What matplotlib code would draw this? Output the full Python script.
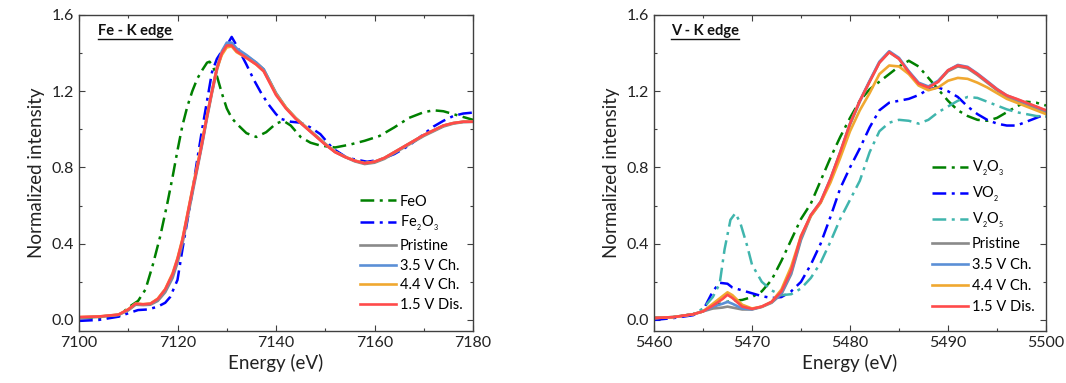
import matplotlib
matplotlib.use("Agg")
import matplotlib.pyplot as plt
from matplotlib.ticker import MultipleLocator
from matplotlib.lines import Line2D

plt.rcParams['font.family'] = ['Lato', 'DejaVu Sans']
plt.rcParams['mathtext.default'] = 'regular'

# ---------------- Fe K-edge data ----------------
fe_feo_e = [7100, 7104, 7108, 7110, 7112, 7113.5, 7115, 7116.5, 7118, 7119, 7120, 7121, 7122, 7123,
            7124, 7125, 7126, 7126.5, 7127, 7128, 7129, 7130, 7131, 7132, 7134, 7136, 7138, 7140,
            7141.5, 7143, 7145, 7147, 7149, 7152, 7155, 7158, 7161, 7164, 7167, 7170, 7172, 7174,
            7176, 7178, 7180]
fe_feo = [0.01, 0.012, 0.018, 0.065, 0.10, 0.16, 0.29, 0.44, 0.62, 0.75, 0.89, 1.02, 1.12, 1.20,
          1.265, 1.31, 1.35, 1.355, 1.34, 1.28, 1.19, 1.11, 1.06, 1.03, 0.98, 0.96, 0.985, 1.03,
          1.045, 1.02, 0.96, 0.93, 0.915, 0.905, 0.92, 0.94, 0.965, 1.01, 1.06, 1.09, 1.10, 1.095,
          1.08, 1.065, 1.05]

fe_fe2o3_e = [7100, 7104, 7108, 7110, 7112, 7114, 7116, 7117.5, 7118.5, 7120, 7121, 7122, 7123,
              7124, 7125, 7126, 7127, 7128, 7129, 7130, 7131, 7132, 7133, 7134, 7135.5, 7137,
              7138.5, 7140, 7141, 7143, 7145, 7147, 7149, 7151.5, 7154.5, 7158.5, 7161, 7164,
              7167, 7170, 7172, 7174, 7176, 7178, 7180]
fe_fe2o3 = [-0.005, 0.0, 0.017, 0.035, 0.052, 0.055, 0.07, 0.09, 0.12, 0.21, 0.37, 0.52, 0.67,
            0.84, 1.00, 1.15, 1.30, 1.37, 1.41, 1.44, 1.485, 1.44, 1.39, 1.34, 1.26, 1.19,
            1.13, 1.08, 1.055, 1.04, 1.035, 1.01, 0.975, 0.90, 0.85, 0.83, 0.84, 0.87,
            0.915, 0.975, 1.015, 1.045, 1.07, 1.083, 1.088]

fe_e = [7100, 7104, 7108, 7110, 7111.5, 7113, 7114.5, 7116, 7117.5, 7119, 7120, 7121, 7122, 7123,
        7124, 7125, 7126, 7127, 7128, 7129, 7130, 7131, 7132, 7134, 7136, 7137.5, 7139, 7140,
        7142, 7144, 7146, 7148, 7150, 7152, 7154, 7156, 7158, 7160, 7162, 7164, 7166, 7168,
        7170, 7172, 7174, 7176, 7178, 7180]
fe_pristine = [0.012, 0.016, 0.026, 0.05, 0.08, 0.078, 0.08, 0.10, 0.145, 0.22, 0.30, 0.40, 0.53,
               0.66, 0.79, 0.92, 1.06, 1.19, 1.31, 1.40, 1.445, 1.45, 1.42, 1.385, 1.35, 1.315,
               1.24, 1.19, 1.115, 1.06, 1.015, 0.97, 0.925, 0.882, 0.855, 0.832, 0.818, 0.825,
               0.845, 0.875, 0.905, 0.935, 0.965, 0.99, 1.015, 1.03, 1.038, 1.04]
fe_35v = [0.013, 0.017, 0.027, 0.054, 0.084, 0.081, 0.084, 0.108, 0.155, 0.235, 0.315, 0.415,
          0.545, 0.675, 0.80, 0.93, 1.07, 1.20, 1.325, 1.41, 1.455, 1.455, 1.425, 1.39, 1.35,
          1.315, 1.24, 1.19, 1.115, 1.058, 1.012, 0.967, 0.922, 0.882, 0.856, 0.836, 0.823,
          0.83, 0.85, 0.88, 0.91, 0.94, 0.97, 0.995, 1.02, 1.033, 1.04, 1.04]
fe_44v = [0.015, 0.018, 0.028, 0.056, 0.086, 0.083, 0.086, 0.112, 0.162, 0.245, 0.325, 0.425,
          0.555, 0.685, 0.81, 0.94, 1.075, 1.20, 1.32, 1.39, 1.43, 1.435, 1.405, 1.375, 1.34,
          1.305, 1.235, 1.185, 1.115, 1.058, 1.012, 0.967, 0.922, 0.882, 0.856, 0.836, 0.823,
          0.83, 0.85, 0.88, 0.91, 0.94, 0.97, 0.995, 1.02, 1.033, 1.04, 1.04]
fe_15v = [0.015, 0.018, 0.028, 0.055, 0.085, 0.082, 0.085, 0.11, 0.16, 0.24, 0.32, 0.42, 0.55,
          0.68, 0.80, 0.93, 1.07, 1.20, 1.32, 1.40, 1.44, 1.44, 1.41, 1.375, 1.34, 1.305,
          1.23, 1.18, 1.11, 1.055, 1.01, 0.965, 0.92, 0.88, 0.855, 0.835, 0.822, 0.83, 0.85,
          0.88, 0.91, 0.94, 0.97, 0.995, 1.02, 1.033, 1.04, 1.04]

# ---------------- V K-edge data ----------------
v_v2o3_e = [5460, 5462, 5464, 5465, 5466, 5467, 5468, 5469, 5470, 5471, 5472, 5473, 5474, 5475,
            5476, 5477, 5478, 5479, 5480, 5481, 5482, 5483, 5484, 5485, 5486, 5487, 5488, 5489,
            5490, 5491, 5492, 5493, 5494, 5495, 5496, 5497, 5498, 5499, 5500]
v_v2o3 = [0.01, 0.015, 0.03, 0.045, 0.07, 0.09, 0.10, 0.105, 0.12, 0.15, 0.21, 0.31, 0.42, 0.53,
          0.61, 0.73, 0.85, 0.96, 1.06, 1.15, 1.21, 1.25, 1.29, 1.33, 1.36, 1.33, 1.27, 1.21,
          1.15, 1.10, 1.07, 1.05, 1.045, 1.06, 1.09, 1.12, 1.145, 1.14, 1.125]

v_vo2_e = [5460, 5462, 5464, 5465, 5466, 5466.7, 5467.5, 5468, 5469, 5470, 5471, 5472, 5473, 5474,
           5475, 5476, 5477, 5478, 5479, 5480, 5481, 5482, 5483, 5484, 5485, 5486, 5487, 5488,
           5489, 5490, 5491, 5492, 5493, 5494, 5495, 5496, 5497, 5498, 5499, 5500]
v_vo2 = [0.0, 0.01, 0.025, 0.05, 0.15, 0.195, 0.19, 0.17, 0.155, 0.14, 0.125, 0.115, 0.12, 0.15,
         0.20, 0.29, 0.40, 0.54, 0.69, 0.80, 0.90, 1.01, 1.10, 1.14, 1.15, 1.16, 1.18, 1.21,
         1.22, 1.20, 1.17, 1.12, 1.08, 1.05, 1.03, 1.02, 1.02, 1.04, 1.06, 1.08]

v_v2o5_e = [5460, 5462, 5464, 5465, 5466, 5466.7, 5467.2, 5467.8, 5468.3, 5468.8, 5469.5, 5470,
            5471, 5472, 5473, 5474, 5475, 5476, 5477, 5478, 5479, 5480, 5481, 5482, 5483, 5484,
            5485, 5486, 5487, 5488, 5489, 5490, 5491, 5492, 5493, 5494, 5495, 5496, 5497, 5498,
            5499, 5500]
v_v2o5 = [0.01, 0.015, 0.03, 0.06, 0.12, 0.19, 0.37, 0.525, 0.56, 0.51, 0.39, 0.29, 0.20, 0.155,
          0.13, 0.135, 0.165, 0.22, 0.30, 0.41, 0.53, 0.63, 0.73, 0.88, 0.99, 1.035, 1.05, 1.045,
          1.03, 1.05, 1.09, 1.12, 1.15, 1.17, 1.165, 1.145, 1.125, 1.105, 1.09, 1.08, 1.07, 1.067]

v_e = [5460, 5462, 5464, 5465, 5466, 5467, 5467.5, 5468, 5469, 5470, 5471, 5472, 5473, 5474, 5475,
       5476, 5477, 5478, 5479, 5480, 5481, 5482, 5483, 5484, 5485, 5486, 5487, 5488, 5489, 5490,
       5491, 5492, 5493, 5494, 5495, 5496, 5497, 5498, 5499, 5500]
v_pristine = [0.01, 0.015, 0.03, 0.045, 0.06, 0.065, 0.07, 0.065, 0.055, 0.055, 0.068, 0.09, 0.135,
              0.24, 0.42, 0.545, 0.615, 0.735, 0.875, 1.025, 1.145, 1.25, 1.35, 1.405, 1.37, 1.30,
              1.24, 1.22, 1.25, 1.305, 1.33, 1.32, 1.285, 1.245, 1.205, 1.17, 1.148, 1.13, 1.11,
              1.09]
v_35v = [0.01, 0.015, 0.03, 0.045, 0.07, 0.085, 0.095, 0.085, 0.06, 0.056, 0.07, 0.093, 0.14,
         0.25, 0.43, 0.55, 0.62, 0.74, 0.88, 1.03, 1.15, 1.255, 1.355, 1.41, 1.375, 1.305, 1.245,
         1.225, 1.255, 1.31, 1.338, 1.328, 1.293, 1.253, 1.212, 1.178, 1.158, 1.138, 1.118, 1.098]
v_44v = [0.01, 0.015, 0.03, 0.045, 0.085, 0.125, 0.145, 0.13, 0.08, 0.06, 0.07, 0.095, 0.16,
         0.28, 0.44, 0.545, 0.615, 0.72, 0.85, 0.99, 1.10, 1.19, 1.29, 1.335, 1.33, 1.29, 1.23,
         1.205, 1.22, 1.255, 1.27, 1.265, 1.245, 1.22, 1.19, 1.16, 1.14, 1.12, 1.10, 1.08]
v_15v = [0.01, 0.015, 0.03, 0.045, 0.075, 0.11, 0.132, 0.115, 0.07, 0.058, 0.07, 0.095, 0.15,
         0.26, 0.44, 0.55, 0.62, 0.74, 0.88, 1.03, 1.15, 1.25, 1.35, 1.405, 1.37, 1.30, 1.24,
         1.22, 1.25, 1.31, 1.335, 1.325, 1.29, 1.25, 1.21, 1.178, 1.16, 1.14, 1.12, 1.10]

fe_ref_labels = ['FeO', 'Fe$_{{}_2}$O$_{{}_3}$']
v_ref_labels = ['V$_{{}_2}$O$_{{}_3}$', 'VO$_{{}_2}$', 'V$_{{}_2}$O$_{{}_5}$']
sample_labels = ['Pristine', '3.5 V Ch.', '4.4 V Ch.', '1.5 V Dis.']
sample_colors = ['#8a8a8a', '#5b8fd6', '#f0a830', '#ff4a4a']
DASHDOT = (0, (5.5, 2.2, 1.2, 2.2))

fig = plt.figure(figsize=(10.66, 3.83), dpi=100)
W, H = 1066, 383
axL = fig.add_axes([79 / W, (H - 331) / H, 394 / W, 316 / H])
axR = fig.add_axes([654 / W, (H - 331) / H, 392 / W, 316 / H])

# Left panel
axL.plot(fe_feo_e, fe_feo, color='#008000', lw=1.8, ls=DASHDOT, label=fe_ref_labels[0])
axL.plot(fe_fe2o3_e, fe_fe2o3, color='#0000ff', lw=1.8, ls=DASHDOT, label=fe_ref_labels[1])
for ys, lab, col in zip([fe_pristine, fe_35v, fe_44v, fe_15v], sample_labels, sample_colors):
    axL.plot(fe_e, ys, color=col, lw=1.9, label=lab)

# Right panel
axR.plot(v_v2o3_e, v_v2o3, color='#008000', lw=1.8, ls=DASHDOT, label=v_ref_labels[0])
axR.plot(v_vo2_e, v_vo2, color='#0000ff', lw=1.8, ls=DASHDOT, label=v_ref_labels[1])
axR.plot(v_v2o5_e, v_v2o5, color='#40b5ad', lw=1.8, ls=DASHDOT, label=v_ref_labels[2])
for ys, lab, col in zip([v_pristine, v_35v, v_44v, v_15v], sample_labels, sample_colors):
    axR.plot(v_e, ys, color=col, lw=1.9, label=lab)

for ax, xlim, xmaj, xmin, anchor, lsp in [
        (axL, (7100, 7180), 20, 10, (0.712, 0.060), 0.39),
        (axR, (5460, 5500), 10, 5, (0.708, 0.055), 0.47)]:
    ax.set_xlim(*xlim)
    ax.set_ylim(-0.058, 1.6)
    ax.xaxis.set_major_locator(MultipleLocator(xmaj))
    ax.xaxis.set_minor_locator(MultipleLocator(xmin))
    ax.yaxis.set_major_locator(MultipleLocator(0.4))
    ax.yaxis.set_minor_locator(MultipleLocator(0.2))
    ax.yaxis.set_major_formatter(matplotlib.ticker.FormatStrFormatter('%.1f'))
    ax.tick_params(which='both', direction='in', top=True, right=True, colors='#404040',
                   labelcolor='#222222', labelsize=11.5)
    ax.tick_params(which='major', length=4.5, width=0.8)
    ax.tick_params(which='minor', length=2.5, width=0.8)
    for s in ax.spines.values():
        s.set_color('#404040')
        s.set_linewidth(1.0)
    ax.set_xlabel('Energy (eV)', fontsize=13.5, color='#222222', labelpad=3)
    ax.set_ylabel('Normalized intensity', fontsize=13.5, color='#222222', labelpad=5)
    ax.legend(loc='lower left', bbox_to_anchor=anchor, frameon=False, fontsize=10.5,
              handlelength=2.5, handletextpad=0.25, labelspacing=lsp, borderpad=0,
              borderaxespad=0)

tL = axL.text(0.048, 0.95, 'Fe - K edge', transform=axL.transAxes, fontsize=10.5,
              fontweight='bold', va='center', ha='left', color='#111111')
tR = axR.text(0.043, 0.95, 'V - K edge', transform=axR.transAxes, fontsize=10.5,
              fontweight='bold', va='center', ha='left', color='#111111')

fig.canvas.draw()
r = fig.canvas.get_renderer()
for t in (tL, tR):
    bb = t.get_window_extent(renderer=r)
    x0, x1 = bb.x0 / fig.bbox.width, bb.x1 / fig.bbox.width
    y = (bb.y0 - 1.5) / fig.bbox.height
    fig.add_artist(Line2D([x0, x1], [y, y], transform=fig.transFigure, color='#111111', lw=1.0))

fig.savefig('out.png', dpi=100)
